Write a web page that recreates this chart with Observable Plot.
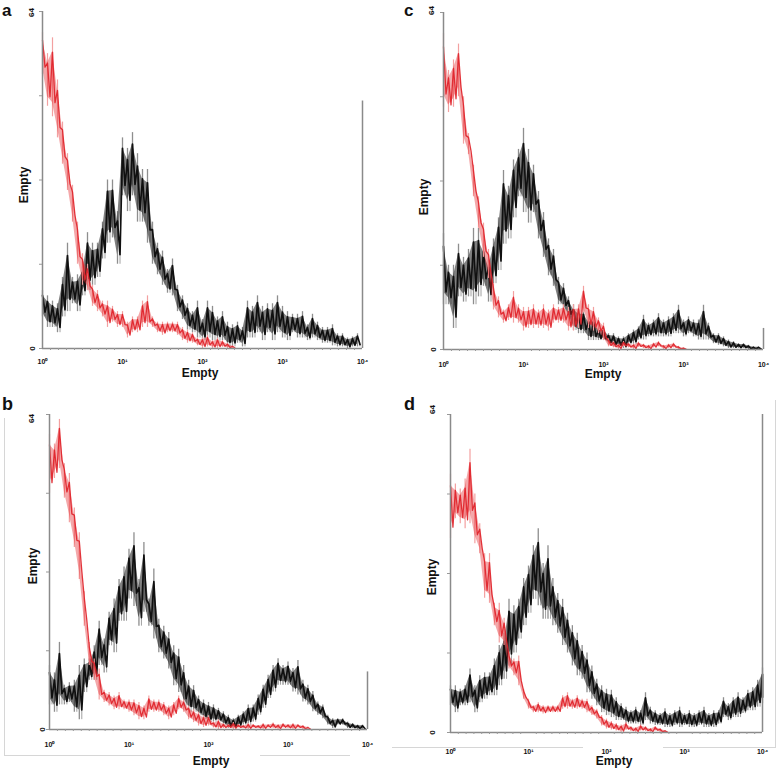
<!DOCTYPE html>
<html>
<head>
<meta charset="utf-8">
<script src="https://cdn.jsdelivr.net/npm/d3@7"></script>
<script src="https://cdn.jsdelivr.net/npm/@observablehq/plot@0.6"></script>
<style>
  body { margin: 0; background: #fff; }
  #root { position: relative; width: 778px; height: 771px; background: #fff; overflow: hidden; }
  .pnl { position: absolute; }
  #overlay { position: absolute; left: 0; top: 0; pointer-events: none; }
  #overlay text { font-family: "Liberation Sans", Arial, sans-serif; font-weight: bold; fill: #111; }
</style>
</head>
<body>
<div id="root"></div>
<script>
// ---------- shared axis definitions ----------
const yTicks = [0, 16, 32, 48, 64];
const yTickLabels = ["0", "64"];
const xTicks = [1, 10, 100, 1000, 10000];
const xTickLabels = ["10\u2070", "10\u00b9", "10\u00b2", "10\u00b3", "10\u2074"];
const channelsPerDecade = 16;
const panelLetters = ["a", "b", "c", "d"];
const axisTitle = "Empty";

// ---------- panel a ----------
const a_redLo = [52,46,44,40,35,30,24,16,12,11,8,7,6,4,5,4,4,2,3,3,4,4,4,3,2.5,3,3,2.5,1.5,1,1,0.5,0,0.3,0,0,0.2,0,0];
const a_redHi = [60,56,59,51,43,37,31,24,18,16,12,11,9,9,8,7,7,5,6,6,9,10,6,5,5,5,5,5,4,3.5,3,2,2,2.5,1.5,2,1.5,1,0.5];
const a_blackLo = [6,4,4,3,6,7,8.5,7,10,11,12,13.5,17,20,21,16,29,26,29,24,24,20,16,14,12,10.5,10,7,5.5,3.5,3,2,1.5,2,1.5,1.5,1.5,0.3,0.3,1,0.3,2,2,3,1.5,3,1.5,3,2,1.5,3,2,2,1.5,2,1.5,1,1,0.5,0.3,0.3,0,0.3,0.3];
const a_blackHi = [11,10,9,8.5,13.5,20,13.5,14,15.5,22,20,20,24,32,32,26,40,38,41,37,34,34,24,20,18.5,15,17,12,10,8.5,7,9,5.5,9,8,6,7,5,4.5,5,4,9,8,10,8,8.5,8.5,10,8,7,6.5,6.5,7,4.5,6.5,5,4,4,4.5,2.8,2.8,2,2.2,2.8];
const a_overflow = 47;

// ---------- panel b ----------
const b_redLo = [48,51,53,47,42,37,30.5,21,13,10,6,5.5,4.8,4,4,4,3.5,2.8,2,2,3.5,3.5,3.5,2.8,2,2.8,4,3.5,2,1.4,0.7,0.4,0.7,0.3,0,0.2,0.3,0,0.3,0.2,0,0.3,0.2,0,0.3,0.2,0,0.3,0.2,0,0.3,0,0];
const b_redHi = [60,58,63,54,52,45,40,28,17.7,14.3,12.3,8,7.5,6.8,7.5,6,6,6,5.5,4.8,6.8,6,6,5.5,4.8,5.5,6.8,6,4.8,4,3.5,2.8,2.8,1.5,2,1.2,1,1.4,1,0.8,1.2,1,0.8,1.2,1,1.3,1,1.2,1,1.2,1,0.8,0.5];
const b_blackLo = [5,3.5,5,5,5.5,3.5,2,7.5,10,10,13,11.5,17,15.6,22,22,26.5,25,21,23.8,21,18.4,15.6,14.3,12.3,8.9,7.5,4.8,3.5,3.5,2.8,2,1.4,1.5,1.5,0.9,0.2,0.2,0.5,0.9,0.9,1.5,2.9,4.3,6.3,7.6,9,9,9,7.6,7,5.6,5,3.6,2.9,2.2,0.9,0.2,0.9,0.9,0.2,0.2,0,0];
const b_blackHi = [13,11.5,17.7,9,9.5,10,13,14.3,14.3,17,22,18.4,23.8,26.5,30.5,33,36.6,40,30.5,38,26.5,32.6,22.4,21,19.7,17,16.3,13,10,8.9,6.8,6,5.5,5,4.3,3.6,2.9,2.2,2.9,3.6,5,5,7,9,11,13,14.4,13,13.7,12.4,14,10,9,7.7,5.6,5,2.9,2.2,2.2,2.2,1.5,1.2,0.9,0.9];
const b_overflow = 11.7;

// ---------- panel c ----------
const c_redLo = [46,45,46,48,39,37,29,23,17.5,13.5,7.5,6,5,5.5,5,5,3.5,4,4,4,4,3.5,5,5,5,3.5,3.5,4,7,4,3.5,3,1.7,0.5,0.3,0,0.5,0.3,0,0.4,0.2,0,0.3,0.5,0,0.2,0.3,0,0];
const c_redHi = [60,53,55,58,48,41,35,29,24,19,12.5,10,7.5,8.5,11,8.5,8,8,8.5,7.5,8.5,7.5,8.5,8,8.5,8,8.5,8.5,12,8.5,8,6,5,2,1.5,1,1.5,1.2,1,1.4,1,0.8,1.2,1.5,0.8,1,1.2,0.6,0.3];
const c_blackLo = [8.5,8.5,4,10,9,10,8.5,10,12,9,12.5,15,20,21,25,29,26,24,26,21,17.5,14,12,8.5,7.5,6,3.6,3,3,1.7,1.7,1.7,1.7,1,0.5,0.5,0.2,1,1,1.8,1.8,2.4,2.4,2.4,2.4,2.4,3,3,2.4,3,2.4,1.8,1.8,1.8,1.1,0.8,0.5,0.2,0.2,0.2,0.2,0,0,0];
const c_blackHi = [22,16,16,20,17.5,19,23,23,20,17,21,25,34,31,36,38,42,38,35,30,26,21,19,13.7,12.5,10,8.5,7.5,7.5,6,6,4,4,3,3,2.4,2.4,3,3.7,4.3,6.5,5,5.6,6.8,5.6,6.2,6.8,8.4,5.6,6.2,5.6,5.6,8.4,5,3,3,2.4,1.8,1.5,1.1,1.1,0.8,0.5,0.5];
const c_overflow = 4;

// ---------- panel d ----------
const d_redLo = [39,43,42,41,42,38,36,27,26,21.5,18,17.5,12.8,11.4,9.4,6.7,4.7,4,4,3.7,4,4,4,4.7,4.7,4.7,4.7,4.7,4,3.4,2.7,1.3,0.7,0.5,0.3,0,0.4,0.2,0,0.3,0.2,0,0.3,0,0];
const d_redHi = [52,50,49,51,57,48,42,36,36,26,26,23,16,14.8,15.4,8.7,6.7,5.4,6,5.4,5.4,5.4,5.4,7.4,8,6.7,7.4,6.7,6.7,5.4,4.7,3.4,2.7,2.2,1.8,1.5,2,1.2,1,1.5,1.2,0.8,1.2,0.8,0.4];
const d_blackLo = [5.4,4,5.4,5.4,6,4,6,6.7,7.4,7.4,9.4,10.7,13.4,16,18.8,21.5,24,26.8,25.5,22.8,22.8,21.5,20,17.5,16,13.4,11.4,10.7,8,6.7,5.4,4,3.4,3,2.4,2.4,1.7,1.7,1.7,1.4,2.4,1.7,1.4,1.4,1,1,1.4,1,1.4,1,1,1.4,1,1,1,1.7,3,2.4,3,3,3.8,4.4,4.4,5.1,5.8];
const d_blackHi = [9.4,9.4,8.7,9.4,12.8,9.4,11.4,12,12,14.8,17.5,20,26.8,25.5,26.8,31,33.5,37.6,41,34,37.6,31,28,26.8,24,21.5,20,17.5,16,13.4,10.7,9.4,8.7,8.5,7,5.8,5.1,4.4,5.1,4.4,8,5.1,4.4,3.8,4.8,3.8,4.4,5.1,3.8,4.4,3.8,4.4,5.1,3.8,4.4,4.4,7,5.8,7,8,7,8.5,9,10.5,13];
const d_overflow = 64;

// ---------- helpers ----------
const chX = i => 10 ** (Math.min(i, 64) / channelsPerDecade);
function rows(lo, hi) {
  return lo.map((l, i) => {
    const span = hi[i] - l;
    return {x: chX(i), xh: chX(i + 0.5), lo: l, hi: hi[i], a: l + span * 0.18, b: hi[i] - span * 0.18};
  });
}
function wave(rs) {
  const pts = [];
  rs.forEach((r, i) => {
    pts.push({x: r.x, y: r.b});
    pts.push({x: r.xh, y: r.a});
  });
  return pts;
}
const minorTicks = d3.range(1, 40).map(k => 10 ** (k / 10)).filter(v => !xTicks.includes(v));

const panels = [
  {left: 0,   top: 0,   w: 390, h: 385, m: [11, 28, 37, 42], tickPad: 10.5,
   redLo: a_redLo, redHi: a_redHi, blackLo: a_blackLo, blackHi: a_blackHi, overflow: a_overflow,
   l64: [-11, 1], l0: [-10, 0]},
  {left: 0,   top: 385, w: 390, h: 386, m: [29, 23, 42, 49], tickPad: 12.5,
   redLo: b_redLo, redHi: b_redHi, blackLo: b_blackLo, blackHi: b_blackHi, overflow: b_overflow,
   l64: [-18, 4], l0: [-7, 0]},
  {left: 390, top: 0,   w: 388, h: 385, m: [12, 15, 36, 53], tickPad: 12.5,
   redLo: c_redLo, redHi: c_redHi, blackLo: c_blackLo, blackHi: c_blackHi, overflow: c_overflow,
   l64: [-12, -2], l0: [-10, 0]},
  {left: 390, top: 385, w: 388, h: 386, m: [29, 16, 39, 60], tickPad: 17,
   redLo: d_redLo, redHi: d_redHi, blackLo: d_blackLo, blackHi: d_blackHi, overflow: d_overflow,
   l64: [-18, -5], l0: [-18, 0]}
];

const root = document.getElementById("root");
const frameGray = "#8a8a8a";

panels.forEach(p => {
  const blk = rows(p.blackLo, p.blackHi);
  const red = rows(p.redLo, p.redHi);
  const chart = Plot.plot({
    width: p.w, height: p.h,
    marginTop: p.m[0], marginRight: p.m[1], marginBottom: p.m[2], marginLeft: p.m[3],
    x: {type: "log", domain: [1, 10000], label: null},
    y: {domain: [0, 64], label: null},
    style: {fontFamily: "Liberation Sans, Arial, sans-serif", background: "transparent", color: "#111"},
    marks: [
      // black histogram: gray spike extremes, dense core band, noisy trace
      Plot.ruleX(blk, {x: "x", y1: "lo", y2: "hi", stroke: "#8e8e8e", strokeWidth: 1.3}),
      Plot.ruleX(blk, {x: "xh", y1: "lo", y2: "a", stroke: "#a0a0a0", strokeWidth: 1}),
      Plot.areaY(blk, {x: "x", y1: "a", y2: "b", fill: "#1a1a1a", fillOpacity: 0.55}),
      Plot.line(wave(blk), {x: "x", y: "y", stroke: "#101010", strokeWidth: 1.7}),
      // red histogram
      Plot.ruleX(red, {x: "x", y1: "lo", y2: "hi", stroke: "#f3a0a0", strokeWidth: 1.2}),
      Plot.areaY(red, {x: "x", y1: "a", y2: "b", fill: "#e3262b", fillOpacity: 0.4}),
      Plot.line(wave(red), {x: "x", y: "y", stroke: "#e0232a", strokeWidth: 1.3, strokeOpacity: 0.92}),
      // frame
      Plot.ruleX([10000], {y1: 0, y2: p.overflow, stroke: frameGray, strokeWidth: 1.5}),
      Plot.ruleX([1], {y1: 0, y2: 64, stroke: frameGray, strokeWidth: 1.5}),
      Plot.ruleY([0], {stroke: frameGray, strokeWidth: 1.5}),
      Plot.axisY({ticks: yTicks, tickSize: 3, tickFormat: () => "", stroke: "#999", label: null}),
      Plot.axisX({ticks: minorTicks, tickSize: 2, tickFormat: () => "", stroke: "#999", label: null}),
      Plot.axisX({ticks: xTicks, tickSize: 0, tickPadding: p.tickPad, label: null,
        tickFormat: d => xTickLabels[xTicks.indexOf(d)], fontSize: 7, fontWeight: "bold"}),
      Plot.text([64], {frameAnchor: "left", y: d => d, text: () => yTickLabels[1], rotate: -90,
        dx: p.l64[0], dy: p.l64[1], fontSize: 8, fontWeight: "bold", textAnchor: "middle"}),
      Plot.text([0], {frameAnchor: "left", y: d => d, text: () => yTickLabels[0], rotate: -90,
        dx: p.l0[0], dy: p.l0[1], fontSize: 8, fontWeight: "bold", textAnchor: "middle"})
    ]
  });
  const div = document.createElement("div");
  div.className = "pnl";
  div.style.left = p.left + "px";
  div.style.top = p.top + "px";
  div.style.width = p.w + "px";
  div.style.height = p.h + "px";
  div.appendChild(chart);
  root.appendChild(div);
});

// ---------- overlay: panel letters, axis titles, faint figure borders ----------
const ns = "http://www.w3.org/2000/svg";
const ov = document.createElementNS(ns, "svg");
ov.setAttribute("id", "overlay");
ov.setAttribute("width", 778);
ov.setAttribute("height", 771);
root.appendChild(ov);
function txt(s, x, y, size, opts = {}) {
  const t = document.createElementNS(ns, "text");
  t.textContent = s;
  t.setAttribute("x", x);
  t.setAttribute("y", y);
  t.setAttribute("font-size", size);
  if (opts.anchor) t.setAttribute("text-anchor", opts.anchor);
  if (opts.rotate) {
    t.setAttribute("transform", `rotate(${opts.rotate} ${x} ${y})`);
    t.setAttribute("dominant-baseline", "central");
  }
  ov.appendChild(t);
}
function ln(x1, y1, x2, y2) {
  const l = document.createElementNS(ns, "line");
  l.setAttribute("x1", x1); l.setAttribute("y1", y1);
  l.setAttribute("x2", x2); l.setAttribute("y2", y2);
  l.setAttribute("stroke", "#d6d6d6"); l.setAttribute("stroke-width", 1);
  ov.appendChild(l);
}
// faint borders from the original figure composition
ln(4.5, 418, 4.5, 755); ln(4, 755.5, 180, 755.5); ln(260, 755.5, 350, 755.5);
ln(392, 747.5, 583, 747.5); ln(663, 747.5, 776, 747.5); ln(775.5, 400, 775.5, 747);

txt(panelLetters[0], 2, 16, 17);
txt(panelLetters[2], 404, 16, 17);
txt(panelLetters[1], 2, 410, 18);
txt(panelLetters[3], 404, 410, 18);

txt(axisTitle, 200, 377, 12, {anchor: "middle"});
txt(axisTitle, 603, 378, 12, {anchor: "middle"});
txt(axisTitle, 211, 765, 12, {anchor: "middle"});
txt(axisTitle, 614, 765, 12, {anchor: "middle"});

txt(axisTitle, 24, 185, 12, {anchor: "middle", rotate: -90});
txt(axisTitle, 424, 197, 12, {anchor: "middle", rotate: -90});
txt(axisTitle, 33, 566, 12, {anchor: "middle", rotate: -90});
txt(axisTitle, 432, 577, 12, {anchor: "middle", rotate: -90});
</script>
</body>
</html>
